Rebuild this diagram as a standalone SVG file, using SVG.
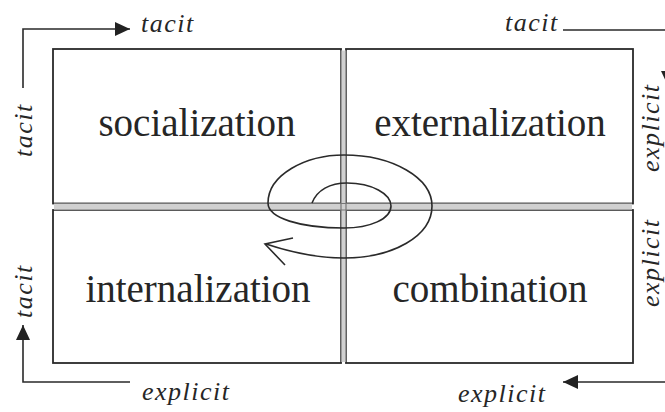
<svg xmlns="http://www.w3.org/2000/svg" width="665" height="412" viewBox="0 0 665 412">
<style>
.box{fill:#fff;stroke:#2a2a2a;stroke-width:1.8}
.lbl{font-family:"Liberation Serif","Times New Roman",serif;font-size:39px;fill:#262626;text-anchor:middle}
.ax{font-family:"Liberation Serif","Times New Roman",serif;font-size:26px;font-style:italic;fill:#262626;letter-spacing:1.5px}
.ln{fill:none;stroke:#2a2a2a;stroke-width:1.6}
.div{stroke:#777;stroke-width:1.2}
</style>
<defs>
<marker id="ah" markerUnits="userSpaceOnUse" markerWidth="16" markerHeight="14" refX="15" refY="7" orient="auto">
<path d="M0,0 L15,7 L0,14 z" fill="#222"/>
</marker>
</defs>
<rect width="665" height="412" fill="#fff"/>
<g id="socialization">
<rect class="box" x="53" y="49" width="288" height="154.5"/>
<text class="lbl" x="197" y="136">socialization</text>
</g>
<g id="externalization">
<rect class="box" x="346" y="49" width="287" height="154.5"/>
<text class="lbl" x="490" y="136">externalization</text>
</g>
<g id="internalization">
<rect class="box" x="53" y="210" width="288" height="153"/>
<text class="lbl" x="198" y="302">internalization</text>
</g>
<g id="combination">
<rect class="box" x="346" y="210" width="287" height="153"/>
<text class="lbl" x="490" y="302">combination</text>
</g>
<g id="dividers">
<rect x="341" y="50.5" width="5" height="311.5" fill="#d0d0d0"/>
<rect x="54" y="203.5" width="578" height="6.5" fill="#d0d0d0"/>
<line class="div" x1="341" y1="50.5" x2="341" y2="362"/>
<line class="div" x1="346" y1="50.5" x2="346" y2="362"/>
<line class="div" x1="54" y1="203.5" x2="632" y2="203.5"/>
<line class="div" x1="54" y1="210" x2="632" y2="210"/>
</g>
<g id="axis-labels">
<text class="ax" x="141" y="32">tacit</text>
<text class="ax" x="505" y="31">tacit</text>
<text class="ax" x="142" y="400">explicit</text>
<text class="ax" x="458" y="402">explicit</text>
<text class="ax" transform="translate(32,157) rotate(-90)">tacit</text>
<text class="ax" transform="translate(32,318) rotate(-90)">tacit</text>
<text class="ax" transform="translate(659,172) rotate(-90)">explicit</text>
<text class="ax" transform="translate(659,307) rotate(-90)">explicit</text>
</g>
<g id="connectors">
<path class="ln" d="M23,88 V29 H130" marker-end="url(#ah)"/>
<path class="ln" d="M563,30 H668 V86" marker-end="url(#ah)"/>
<path class="ln" d="M130,382 H23 V325" marker-end="url(#ah)"/>
<path class="ln" d="M668,335 V382 H563" marker-end="url(#ah)"/>
<path class="ln" d="M312,203 C317,190 330,183 347,183 C372,183 391,194 391,206 C391,219 370,228 344,228 C300,228 268,218 268,203 C268,175 305,155 344,155 C393,155 432,178 432,206 C432,236 393,258 344,258 C318,258 290,252 266,244"/>
<path class="ln" d="M293,238 L265,244 L285,265"/>
</g>
</svg>
